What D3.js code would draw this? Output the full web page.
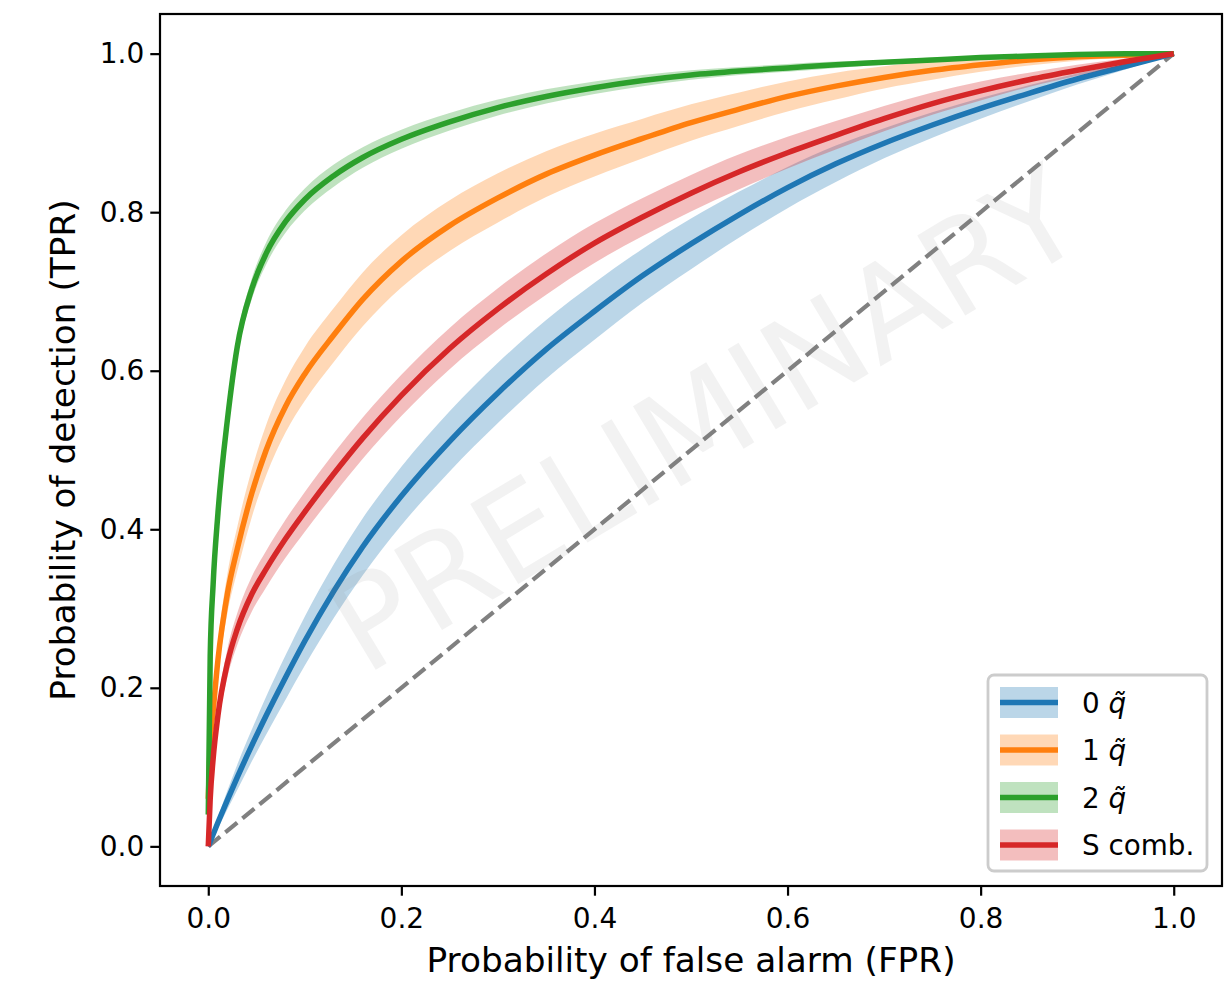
<!DOCTYPE html>
<html>
<head>
<meta charset="utf-8">
<script src="https://cdn.jsdelivr.net/npm/d3@7"></script>
<style>
  body {margin:0; background:#fff;}
  svg text {font-family:"DejaVu Sans", sans-serif;}
</style>
</head>
<body>
<svg width="1230" height="983"></svg>
<script>
// false alarm rate grid shared by all curves
var fpr = [0, 0.002, 0.005, 0.01, 0.02, 0.03, 0.045, 0.06, 0.08, 0.1, 0.13, 0.16, 0.2, 0.25, 0.3,
           0.35, 0.4, 0.45, 0.5, 0.55, 0.6, 0.65, 0.7, 0.75, 0.8, 0.85, 0.9, 0.95, 1.0];

// mean TPR per series
var tpr0 = [0, 0.006, 0.015, 0.030, 0.059, 0.087, 0.127, 0.165, 0.213, 0.259, 0.322, 0.378, 0.442, 0.511, 0.572,
            0.627, 0.675, 0.720, 0.760, 0.797, 0.831, 0.861, 0.887, 0.910, 0.931, 0.950, 0.968, 0.984, 1.0];
var tpr1 = [0.06, 0.13, 0.17, 0.235, 0.32, 0.375, 0.445, 0.50, 0.555, 0.596, 0.645, 0.690, 0.738, 0.783, 0.818,
            0.848, 0.872, 0.893, 0.913, 0.930, 0.946, 0.959, 0.970, 0.979, 0.986, 0.992, 0.996, 0.998, 1.0];
var tpr2 = [0.04, 0.24, 0.33, 0.42, 0.54, 0.63, 0.703, 0.748, 0.788, 0.816, 0.846, 0.869, 0.892, 0.914, 0.932,
            0.946, 0.957, 0.966, 0.973, 0.978, 0.982, 0.986, 0.989, 0.992, 0.995, 0.997, 0.999, 1.0, 1.0];
var tprS = [0, 0.06, 0.11, 0.165, 0.232, 0.274, 0.318, 0.350, 0.388, 0.422, 0.470, 0.515, 0.569, 0.628, 0.678,
            0.722, 0.761, 0.794, 0.824, 0.851, 0.875, 0.897, 0.918, 0.937, 0.953, 0.967, 0.979, 0.990, 1.0];

// +/- spread around the mean (shaded band)
var std0 = [0, 0.002, 0.004, 0.007, 0.012, 0.016, 0.02, 0.024, 0.028, 0.031, 0.034, 0.036, 0.037, 0.038, 0.038,
            0.037, 0.036, 0.034, 0.032, 0.029, 0.026, 0.023, 0.019, 0.016, 0.013, 0.01, 0.007, 0.004, 0];
var std1 = [0, 0.01, 0.015, 0.02, 0.025, 0.028, 0.03, 0.032, 0.033, 0.034, 0.034, 0.034, 0.033, 0.032, 0.031,
            0.029, 0.027, 0.025, 0.023, 0.021, 0.019, 0.017, 0.014, 0.012, 0.009, 0.007, 0.005, 0.003, 0];
var std2 = [0, 0.004, 0.006, 0.008, 0.01, 0.012, 0.013, 0.014, 0.014, 0.014, 0.014, 0.013, 0.012, 0.011, 0.01,
            0.009, 0.008, 0.007, 0.006, 0.005, 0.005, 0.004, 0.003, 0.003, 0.002, 0.002, 0.001, 0.001, 0];
var stdS = [0, 0.006, 0.01, 0.014, 0.018, 0.02, 0.022, 0.023, 0.024, 0.025, 0.026, 0.026, 0.026, 0.026, 0.026,
            0.026, 0.025, 0.024, 0.023, 0.022, 0.02, 0.018, 0.016, 0.014, 0.012, 0.009, 0.007, 0.004, 0];

var labels = ["0", "1", "2", "S comb."];
var colors = ["#1f77b4", "#ff7f0e", "#2ca02c", "#d62728"];
var ticks = [0, 0.2, 0.4, 0.6, 0.8, 1.0];

var series = [
  {label: labels[0], mean: tpr0, sd: std0, color: colors[0], q: true},
  {label: labels[1], mean: tpr1, sd: std1, color: colors[1], q: true},
  {label: labels[2], mean: tpr2, sd: std2, color: colors[2], q: true},
  {label: labels[3], mean: tprS, sd: stdS, color: colors[3], q: false}
];

var svg = d3.select("svg"),
    axL = 160, axR = 1222, axT = 14, axB = 886;

var x = d3.scaleLinear().domain([-0.05, 1.05]).range([axL, axR]);
var y = d3.scaleLinear().domain([-0.05, 1.05]).range([axB, axT]);

var plot = svg.append("g");

// chance diagonal
plot.append("path")
    .attr("d", d3.line()([[x(0), y(0)], [x(1), y(1)]]))
    .attr("stroke", "#808080")
    .attr("stroke-width", 4.2)
    .attr("stroke-dasharray", "15.4,6.7")
    .attr("fill", "none");

var area = d3.area()
    .curve(d3.curveMonotoneX)
    .x(function(d) { return x(d.f); })
    .y0(function(d) { return y(d.m - d.s); })
    .y1(function(d) { return y(d.m + d.s); });
var line = d3.line()
    .curve(d3.curveMonotoneX)
    .x(function(d) { return x(d.f); })
    .y(function(d) { return y(d.m); });

series.forEach(function(s) {
  var pts = fpr.map(function(f, i) { return {f: f, m: s.mean[i], s: s.sd[i]}; });
  plot.append("path").attr("d", area(pts))
      .attr("fill", s.color).attr("fill-opacity", 0.3);
  plot.append("path").attr("d", line(pts))
      .attr("fill", "none").attr("stroke", s.color)
      .attr("stroke-width", 5.5).attr("stroke-linejoin", "round");
});

// axes
var xAxis = svg.append("g").attr("transform", "translate(0," + axB + ")")
    .call(d3.axisBottom(x).tickValues(ticks).tickFormat(d3.format(".1f")).tickSize(9.7).tickPadding(12));
var yAxis = svg.append("g").attr("transform", "translate(" + axL + ",0)")
    .call(d3.axisLeft(y).tickValues(ticks).tickFormat(d3.format(".1f")).tickSize(9.7).tickPadding(6));
[xAxis, yAxis].forEach(function(a) {
  a.select(".domain").remove();
  a.selectAll(".tick line").attr("stroke", "#000").attr("stroke-width", 2.2);
  a.selectAll(".tick text").attr("fill", "#000").style("font-size", "28px")
      .style("font-family", "DejaVu Sans");
});

svg.append("rect")
    .attr("x", axL).attr("y", axT)
    .attr("width", axR - axL).attr("height", axB - axT)
    .attr("fill", "none").attr("stroke", "#000").attr("stroke-width", 2.2);

svg.append("text")
    .attr("x", (axL + axR) / 2).attr("y", 972)
    .attr("text-anchor", "middle")
    .style("font-size", "34.3px")
    .text("Probability of false alarm (FPR)");

svg.append("text")
    .attr("transform", "translate(75," + (axT + axB) / 2 + ") rotate(-90)")
    .attr("text-anchor", "middle")
    .style("font-size", "34.3px")
    .text("Probability of detection (TPR)");

// watermark
svg.append("text")
    .attr("transform", "translate(705,420) rotate(-31)")
    .attr("text-anchor", "middle")
    .attr("dominant-baseline", "central")
    .attr("fill", "#808080").attr("fill-opacity", 0.1)
    .style("font-size", "128px")
    .text("PRELIMINARY");

// legend
var lg = svg.append("g");
lg.append("rect")
    .attr("x", 988).attr("y", 675).attr("width", 219).attr("height", 196)
    .attr("rx", 6).attr("ry", 6)
    .attr("fill", "#fff").attr("fill-opacity", 0.8)
    .attr("stroke", "#cccccc").attr("stroke-width", 2.8);

series.forEach(function(s, i) {
  var cy = 702.5 + i * 47.5;
  lg.append("rect")
      .attr("x", 1000).attr("y", cy - 15.5).attr("width", 58).attr("height", 31)
      .attr("fill", s.color).attr("fill-opacity", 0.3);
  lg.append("line")
      .attr("x1", 1000).attr("x2", 1058).attr("y1", cy).attr("y2", cy)
      .attr("stroke", s.color).attr("stroke-width", 5.5);
  var t = lg.append("text")
      .attr("x", 1082).attr("y", cy + 10)
      .style("font-size", "27.8px");
  if (s.q) {
    t.append("tspan").text(s.label + " ");
    t.append("tspan").style("font-style", "italic").text("q\u0303");
  } else {
    t.text(s.label);
  }
});
</script>
</body>
</html>
